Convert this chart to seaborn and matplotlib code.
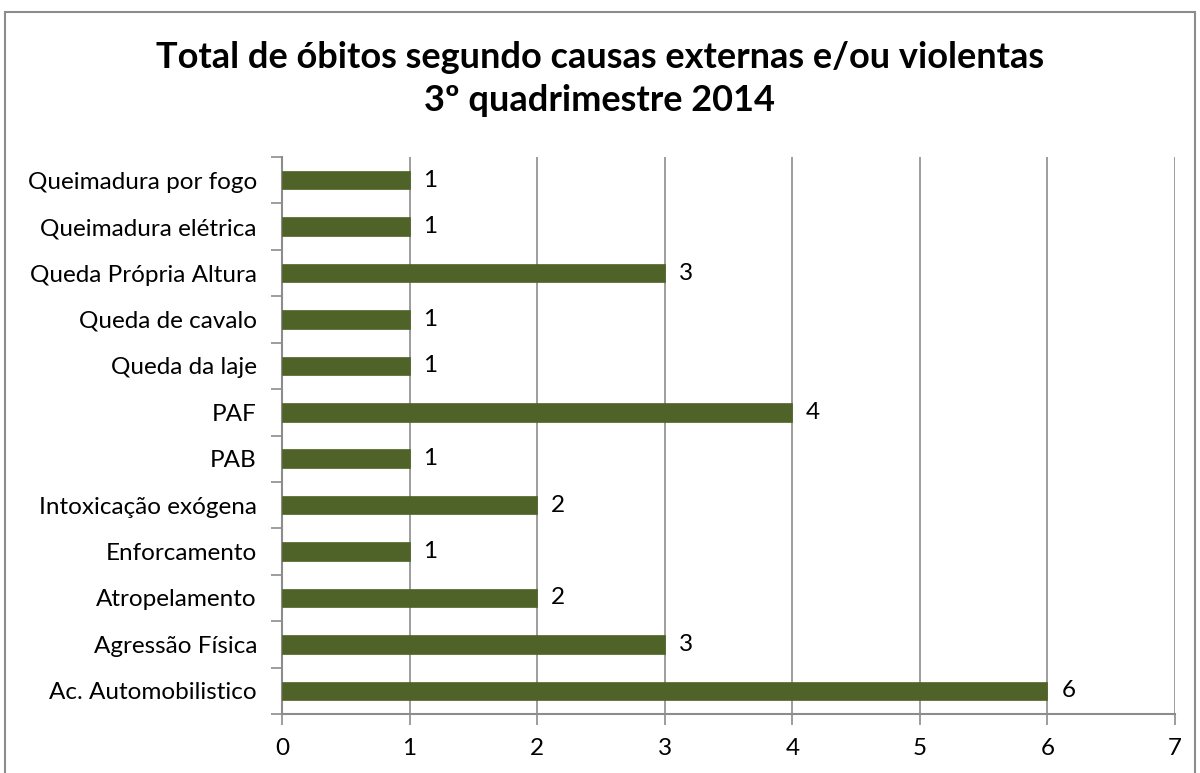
import matplotlib
matplotlib.use("Agg")
import matplotlib.pyplot as plt
import seaborn as sns
import pandas as pd
from matplotlib.patches import Rectangle

causas = [
    "Queimadura por fogo",
    "Queimadura elétrica",
    "Queda Própria Altura",
    "Queda de cavalo",
    "Queda da laje",
    "PAF",
    "PAB",
    "Intoxicação exógena",
    "Enforcamento",
    "Atropelamento",
    "Agressão Física",
    "Ac. Automobilistico",
]
obitos = [1, 1, 3, 1, 1, 4, 1, 2, 1, 2, 3, 6]
xticks = [0, 1, 2, 3, 4, 5, 6, 7]

titulo = "Total de óbitos segundo causas externas e/ou violentas\n3º quadrimestre 2014"

sns.set_theme(style="white")
plt.rcParams["font.family"] = ["Lato", "DejaVu Sans"]
plt.rcParams["text.color"] = "black"
plt.rcParams["xtick.color"] = "black"
plt.rcParams["ytick.color"] = "black"

df = pd.DataFrame({"causa": causas, "obitos": obitos})

fig = plt.figure(figsize=(12, 7.73), dpi=100)
ax = fig.add_axes([282 / 1200, 1 - 714 / 773, (1175 - 282) / 1200, (714 - 157) / 773])

sns.barplot(data=df, x="obitos", y="causa", order=causas, orient="h",
            color="#4F6228", width=0.4, saturation=1, ax=ax, zorder=3,
            edgecolor="#4F6228", linewidth=0.5)

grid_c = "#8C8C8C"
ax.set_xlim(0, 7)
ax.set_ylim(len(causas) - 0.5, -0.5)
ax.set_xticks(xticks)
ax.set_xticklabels([str(t) for t in xticks])
ax.xaxis.grid(True, color=grid_c, linewidth=1.2, zorder=0)
ax.yaxis.grid(False)
ax.set_xlabel("")
ax.set_ylabel("")

# tick marks on category boundaries, labels centred on bars
ax.set_yticks([i - 0.5 for i in range(len(causas) + 1)], minor=True)
ax.tick_params(axis="y", which="minor", length=8, width=1.2, color=grid_c, left=True)
ax.tick_params(axis="y", which="major", length=0, pad=18, labelsize=17.5,
               labelcolor="black")
ax.tick_params(axis="x", which="major", length=8, width=1.2, color=grid_c,
               bottom=True, labelsize=17.5, pad=9, labelcolor="black")

for side in ["top", "right"]:
    ax.spines[side].set_visible(False)
for side in ["left", "bottom"]:
    ax.spines[side].set_color(grid_c)
    ax.spines[side].set_linewidth(1.5)

for cont in ax.containers:
    ax.bar_label(cont, labels=[str(v) for v in obitos], padding=10, fontsize=17.5,
                 color="black")

fig.text(0.5, 1 - 79 / 773, titulo, ha="center", va="center", fontsize=26,
         fontweight="bold", linespacing=1.38, color="black")

fig.patches.append(Rectangle((5 / 1200, -0.02), 1190 / 1200, 1 - 12 / 773 + 0.02,
                             transform=fig.transFigure, fill=False,
                             edgecolor="#8C8C8C", linewidth=1.5, zorder=0))

fig.savefig("out.png", dpi=100)
